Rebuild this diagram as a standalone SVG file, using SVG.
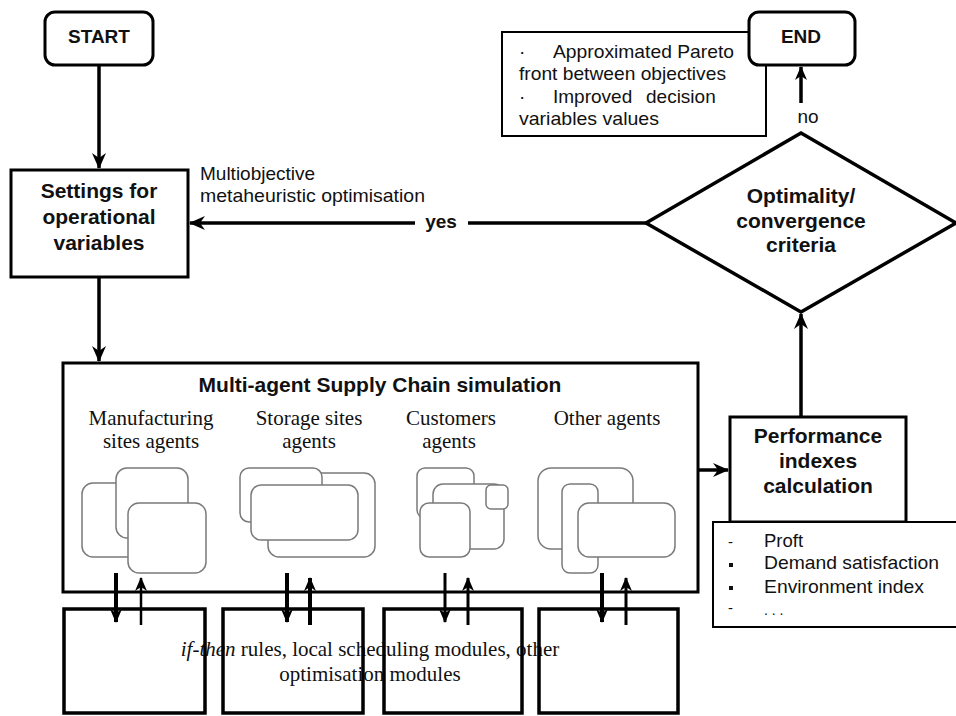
<svg xmlns="http://www.w3.org/2000/svg" width="956" height="716" viewBox="0 0 956 716">
<defs>
<marker id="ah" viewBox="0 0 16 14" markerWidth="16" markerHeight="14" refX="15" refY="7" orient="auto" markerUnits="userSpaceOnUse">
<path d="M0,0 L16,7 L0,14 L5,7 z" fill="#000"/>
</marker>
<marker id="ahs" viewBox="0 0 14 12" markerWidth="14" markerHeight="12" refX="13" refY="6" orient="auto" markerUnits="userSpaceOnUse">
<path d="M0,0 L14,6 L0,12 L4,6 z" fill="#000"/>
</marker>
<style>
.box{fill:#fff;stroke:#000;stroke-width:3}
.thin{fill:#fff;stroke:#000;stroke-width:2}
.ico{fill:#fff;stroke:#7a7a7a;stroke-width:1.5}
.sb{font-family:"Liberation Sans",Arial,sans-serif;font-weight:bold;fill:#111}
.sn{font-family:"Liberation Sans",Arial,sans-serif;fill:#111}
.sf{font-family:"Liberation Serif","Times New Roman",serif;fill:#111;font-size:21px}
.ln{fill:none;stroke:#000;stroke-width:3.5}
.bx{fill:none;stroke:#000;stroke-width:3.5}
</style>
</defs>
<rect width="956" height="716" fill="#fff"/>

<g id="results">
<rect x="502" y="32" width="264" height="104" class="thin"/>
<text class="sn" font-size="19" x="519" y="58">·</text>
<text class="sn" font-size="19" x="553" y="58" textLength="181" lengthAdjust="spacingAndGlyphs">Approximated Pareto</text>
<text class="sn" font-size="19" x="519" y="80" textLength="207" lengthAdjust="spacingAndGlyphs">front between objectives</text>
<text class="sn" font-size="19" x="519" y="103">·</text>
<text class="sn" font-size="19" x="553" y="103">Improved</text>
<text class="sn" font-size="19" x="646" y="103">decision</text>
<text class="sn" font-size="19" x="519" y="125" textLength="140" lengthAdjust="spacingAndGlyphs">variables values</text>
</g>

<g id="start">
<rect x="45" y="12" width="108" height="53" rx="10" class="box"/>
<text class="sb" font-size="19" x="99" y="43" text-anchor="middle">START</text>
</g>

<g id="end">
<rect x="749" y="12" width="106" height="53" rx="10" class="box"/>
<text class="sb" font-size="19" x="801" y="43" text-anchor="middle">END</text>
</g>

<g id="settings">
<rect x="11" y="170" width="177" height="107" class="box"/>
<text class="sb" font-size="21" x="99" y="198" text-anchor="middle">Settings for</text>
<text class="sb" font-size="21" x="99" y="224" text-anchor="middle">operational</text>
<text class="sb" font-size="21" x="99" y="250" text-anchor="middle">variables</text>
</g>

<g id="moo-label">
<text class="sn" font-size="19" x="200" y="180">Multiobjective</text>
<text class="sn" font-size="19" x="200" y="202" textLength="225" lengthAdjust="spacingAndGlyphs">metaheuristic optimisation</text>
</g>

<g id="criteria">
<polygon points="646,223 801,133 956,223 801,312" fill="#fff" stroke="#000" stroke-width="3.5"/>
<text class="sb" font-size="21" x="801" y="203" text-anchor="middle">Optimality/</text>
<text class="sb" font-size="21" x="801" y="228" text-anchor="middle">convergence</text>
<text class="sb" font-size="21" x="801" y="252" text-anchor="middle">criteria</text>
</g>

<g id="simulation">
<rect x="63" y="363" width="635" height="229" class="box"/>
<text class="sb" font-size="21" x="380" y="392" text-anchor="middle">Multi-agent Supply Chain simulation</text>
<text class="sf" x="151" y="425" text-anchor="middle">Manufacturing</text>
<text class="sf" x="151" y="448" text-anchor="middle">sites agents</text>
<text class="sf" x="309" y="425" text-anchor="middle">Storage sites</text>
<text class="sf" x="309" y="448" text-anchor="middle">agents</text>
<text class="sf" x="451" y="425" text-anchor="middle">Customers</text>
<text class="sf" x="449" y="448" text-anchor="middle">agents</text>
<text class="sf" x="607" y="425" text-anchor="middle">Other agents</text>
<g id="icons-manufacturing">
<rect x="82" y="483" width="70" height="74" rx="11" class="ico"/>
<rect x="116" y="468" width="72" height="70" rx="11" class="ico"/>
<rect x="128" y="503" width="78" height="70" rx="11" class="ico"/>
</g>
<g id="icons-storage">
<rect x="268" y="473" width="107" height="84" rx="11" class="ico"/>
<rect x="240" y="468" width="82" height="54" rx="9" class="ico"/>
<rect x="251" y="485" width="107" height="55" rx="10" class="ico"/>
</g>
<g id="icons-customers">
<rect x="417" y="468" width="57" height="50" rx="8" class="ico"/>
<rect x="433" y="484" width="71" height="65" rx="10" class="ico"/>
<rect x="486" y="485" width="22" height="24" rx="5" class="ico"/>
<rect x="420" y="503" width="50" height="54" rx="9" class="ico"/>
</g>
<g id="icons-other">
<rect x="538" y="468" width="95" height="81" rx="13" class="ico"/>
<rect x="562" y="484" width="36" height="89" rx="8" class="ico"/>
<rect x="578" y="503" width="97" height="54" rx="11" class="ico"/>
</g>
</g>

<g id="performance">
<rect x="730" y="417" width="176" height="105" class="box"/>
<text class="sb" font-size="21" x="818" y="443" text-anchor="middle">Performance</text>
<text class="sb" font-size="21" x="818" y="468" text-anchor="middle">indexes</text>
<text class="sb" font-size="21" x="818" y="493" text-anchor="middle">calculation</text>
</g>

<g id="indicators">
<rect x="713" y="522" width="260" height="105" class="thin"/>
<text class="sn" font-size="15" x="728" y="547">-</text>
<rect x="729" y="563" width="4" height="4" fill="#111"/>
<rect x="729" y="586" width="4" height="4" fill="#111"/>
<text class="sn" font-size="15" x="728" y="613">-</text>
<text class="sn" font-size="18.5" x="764" y="547">Proft</text>
<text class="sn" font-size="18.5" x="764" y="569" textLength="175" lengthAdjust="spacingAndGlyphs">Demand satisfaction</text>
<text class="sn" font-size="18.5" x="764" y="593" textLength="160" lengthAdjust="spacingAndGlyphs">Environment index</text>
<text class="sn" font-size="14" x="764" y="615" fill="#444">. . .</text>
</g>

<g id="modules-label">
<text class="sf" x="370" y="656" text-anchor="middle"><tspan font-style="italic">if-then</tspan> rules, local scheduling modules, other</text>
<text class="sf" x="370" y="681" text-anchor="middle">optimisation modules</text>
</g>

<g id="modules">
<rect x="64" y="609" width="141" height="104" class="bx"/>
<rect x="223" y="609" width="140" height="104" class="bx"/>
<rect x="384" y="609" width="138" height="104" class="bx"/>
<rect x="539" y="609" width="139" height="104" class="bx"/>
</g>

<g id="connectors">
<path class="ln" d="M99,65 V168" marker-end="url(#ah)"/>
<path class="ln" d="M99,277 V361" marker-end="url(#ah)"/>
<path class="ln" d="M415,223 H190" marker-end="url(#ah)"/>
<path class="ln" d="M468,223 H646"/>
<text class="sb" font-size="19" x="441" y="228" text-anchor="middle">yes</text>
<path class="ln" d="M801,103 V67" marker-end="url(#ahs)"/>
<text class="sn" font-size="19" x="808" y="123" text-anchor="middle">no</text>
<path class="ln" d="M801,417 V314" marker-end="url(#ah)"/>
<path class="ln" d="M698,470 H728" marker-end="url(#ah)"/>
<g stroke="#000" fill="none">
<path stroke-width="4" d="M116,573 V622" marker-end="url(#ahs)"/>
<path stroke-width="2.5" d="M141,625 V578" marker-end="url(#ahs)"/>
<path stroke-width="4" d="M287,573 V622" marker-end="url(#ahs)"/>
<path stroke-width="4" d="M310,625 V578" marker-end="url(#ahs)"/>
<path stroke-width="3" d="M445,573 V622" marker-end="url(#ahs)"/>
<path stroke-width="3" d="M468,625 V578" marker-end="url(#ahs)"/>
<path stroke-width="4" d="M602,573 V622" marker-end="url(#ahs)"/>
<path stroke-width="3" d="M626,625 V578" marker-end="url(#ahs)"/>
</g>
</g>
</svg>
